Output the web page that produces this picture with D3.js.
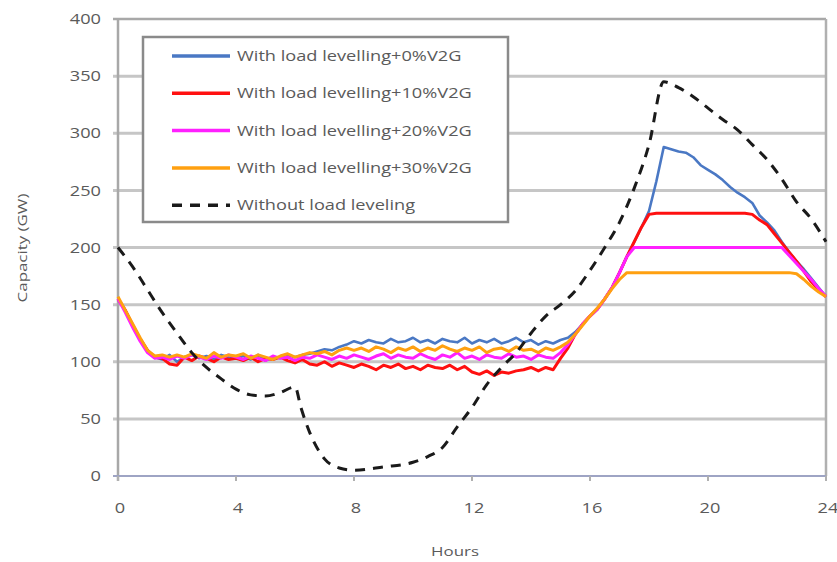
<!DOCTYPE html>
<html>
<head>
<meta charset="utf-8">
<script src="https://cdn.jsdelivr.net/npm/d3@7"></script>
<style>
  body { margin: 0; background: #fff; }
  text { font-family: "Open Sans", "DejaVu Sans", sans-serif; fill: #5a5a5a; }
</style>
</head>
<body>
<svg class="capacity-chart" width="837" height="562"></svg>
<script>
// sample hours for the noisy load-levelling runs (every 15 min)
const stepHours = d3.range(0, 24.001, 0.25)

const v2g0 = [
  155,145,132,120,110,104,102,106,
  100,104,106,103,105,102,106,104,
  103,105,102,106,101,104,103,106,
  104,106,107,109,111,110,113,115,
  118,116,119,117,116,120,117,118,
  121,117,119,116,120,118,117,121,
  116,119,117,120,116,118,121,117,
  119,115,118,116,119,121,126,133,
  140,146,155,165,178,192,205,218,
  232,258,288,286,284,283,279,272,
  268,264,259,253,248,244,239,228,
  222,215,205,196,188,181,173,165,
  157]

const v2g10 = [
  155,145,132,120,110,104,103,98,
  97,104,101,105,103,100,104,102,
  103,101,104,100,103,102,104,101,
  99,102,98,97,100,96,99,97,
  95,98,96,93,97,95,98,94,
  96,93,97,95,94,97,93,96,
  91,89,92,88,91,90,92,93,
  95,92,95,93,103,112,124,133,
  140,146,155,165,178,192,205,218,
  229,230,230,230,230,230,230,230,
  230,230,230,230,230,230,229,224,
  220,212,204,196,188,179,170,163,
  157]

const v2g20 = [
  155,143,130,118,108,103,104,102,
  105,103,106,104,102,105,103,106,
  104,102,105,103,101,105,103,104,
  101,104,103,106,104,102,105,103,
  106,104,102,105,107,103,106,104,
  103,107,104,102,106,104,108,103,
  105,102,106,104,103,107,104,105,
  102,106,104,103,108,115,124,133,
  140,146,155,165,178,192,200,200,
  200,200,200,200,200,200,200,200,
  200,200,200,200,200,200,200,200,
  200,200,200,193,186,179,172,164,
  157]

const v2g30 = [
  157,145,133,121,110,105,106,104,
  106,104,107,105,103,108,104,106,
  105,107,103,106,104,102,105,107,
  104,106,108,107,109,106,110,112,
  110,112,109,113,111,108,112,110,
  113,109,112,110,114,111,109,112,
  110,113,108,111,112,109,113,110,
  111,108,112,110,113,117,124,132,
  140,147,155,164,172,178,178,178,
  178,178,178,178,178,178,178,178,
  178,178,178,178,178,178,178,178,
  178,178,178,178,177,172,166,161,
  157]

const noLevHours = [0,0.5,1,1.5,2,2.5,3,3.5,4,4.5,5,5.5,6,6.2,6.5,7,7.5,8,9,10,10.5,11,11.5,12,12.5,13,13.5,14,14.5,15,15.5,16,16.5,17,17.5,18,18.5,19,19.5,20,20.5,21,21.5,22,22.5,23,23.5,24]
const noLevValues = [200,183,163,143,125,108,95,85,76,71,70,73,78,60,38,15,7,5,8,12,17,25,43,60,80,95,108,125,140,150,162,180,200,222,252,290,345,340,332,322,312,303,290,277,260,240,225,205]

const seriesNames = ['With load levelling+0%V2G', 'With load levelling+10%V2G', 'With load levelling+20%V2G', 'With load levelling+30%V2G', 'Without load leveling']
const seriesColors = ['#4a78c4', '#ff1010', '#ff20ff', '#ffa010', '#1a1a1a']
const xTicks = [0, 4, 8, 12, 16, 20, 24]
const yTicks = [0, 50, 100, 150, 200, 250, 300, 350, 400]

const svg = d3.select('.capacity-chart')
const x = d3.scaleLinear().domain([0, 24]).range([118, 826])
const y = d3.scaleLinear().domain([0, 400]).range([476, 19])

// stretched glyphs, the source picture is wider than tall
function label(g, tx, ty, str, anchor, size, rot) {
  const t = g.append('text')
    .attr('transform', `translate(${tx},${ty})` + (rot ? ` rotate(${rot})` : '') + ' scale(1.3,1)')
    .attr('text-anchor', anchor)
    .attr('dominant-baseline', 'central')
    .style('font-size', size + 'px')
    .text(str)
  return t
}

// grid
svg.append('g').selectAll('line')
  .data(yTicks.filter(d => d > 0 && d < 400))
  .enter().append('line')
  .attr('x1', x(0) - 5).attr('x2', x(24))
  .attr('y1', d => y(d)).attr('y2', d => y(d))
  .attr('stroke', '#c6c6c6')
  .attr('stroke-width', 3)

svg.append('line')
  .attr('x1', x(0) - 5).attr('x2', x(24))
  .attr('y1', y(400)).attr('y2', y(400))
  .attr('stroke', '#a8a8a8').attr('stroke-width', 2.5)
svg.append('line')
  .attr('x1', x(24)).attr('x2', x(24))
  .attr('y1', y(400)).attr('y2', y(0))
  .attr('stroke', '#b0b0b0').attr('stroke-width', 2.5)
svg.append('line')
  .attr('x1', x(0)).attr('x2', x(0))
  .attr('y1', y(400)).attr('y2', y(0) + 5)
  .attr('stroke', '#a8a8a8').attr('stroke-width', 2.5)
svg.append('line')
  .attr('x1', x(0) - 5).attr('x2', x(24))
  .attr('y1', y(0)).attr('y2', y(0))
  .attr('stroke', '#9ea4c4').attr('stroke-width', 2)

svg.append('g').selectAll('line')
  .data(xTicks)
  .enter().append('line')
  .attr('x1', d => x(d)).attr('x2', d => x(d))
  .attr('y1', y(0)).attr('y2', y(0) + 5)
  .attr('stroke', '#b0b0b0').attr('stroke-width', 2)

const labels = svg.append('g')
yTicks.forEach(d => label(labels, 101, y(d), d, 'end', 14))
xTicks.forEach(d => label(labels, x(d) + 2, 508, d, 'middle', 14))
label(labels, 455, 551, 'Hours', 'middle', 13)
label(labels, 22, 248, 'Capacity (GW)', 'middle', 13, -90)

// series
const line = d3.line().x(d => x(d[0])).y(d => y(d[1]))
const runs = [v2g0, v2g10, v2g20, v2g30]
const plot = svg.append('g')
runs.forEach((vals, i) => {
  plot.append('path')
    .datum(stepHours.map((h, j) => [h, vals[j]]))
    .attr('fill', 'none')
    .attr('stroke', seriesColors[i])
    .attr('stroke-width', i == 0 ? 2.6 : 3)
    .attr('stroke-linejoin', 'round')
    .attr('d', line)
})
plot.append('path')
  .datum(noLevHours.map((h, j) => [h, noLevValues[j]]))
  .attr('fill', 'none')
  .attr('stroke', seriesColors[4])
  .attr('stroke-width', 3)
  .attr('stroke-dasharray', '10,8')
  .attr('d', line.curve(d3.curveMonotoneX))

// legend
const legend = svg.append('g')
legend.append('rect')
  .attr('x', 143).attr('y', 37)
  .attr('width', 365).attr('height', 185)
  .attr('fill', '#fff')
  .attr('stroke', '#8a8a8a')
  .attr('stroke-width', 2.5)
seriesNames.forEach((name, i) => {
  const ly = 56 + i * 37.3
  legend.append('line')
    .attr('x1', 172).attr('x2', 230)
    .attr('y1', ly).attr('y2', ly)
    .attr('stroke', seriesColors[i])
    .attr('stroke-width', 3.5)
    .attr('stroke-dasharray', i == 4 ? '10,8' : null)
  label(legend, 237, ly, name, 'start', 14)
})
</script>
</body>
</html>
